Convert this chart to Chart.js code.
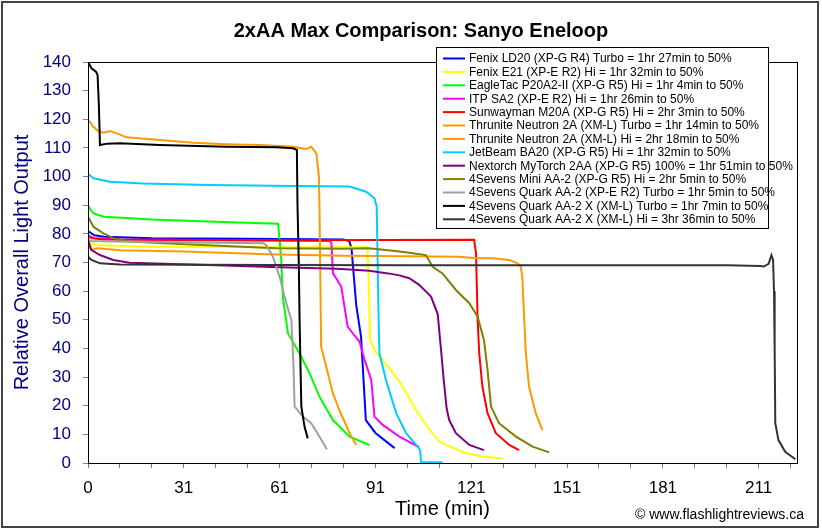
<!DOCTYPE html>
<html>
<head>
<meta charset="utf-8">
<title>2xAA Max Comparison: Sanyo Eneloop</title>
<script src="https://cdn.jsdelivr.net/npm/chart.js@4/dist/chart.umd.min.js"></script>
<style>
  body { margin: 0; background: #fff; }
  canvas { display: block; }
</style>
</head>
<body>
<canvas id="runtimeChart" width="822" height="530"></canvas>
<script>
// runtime traces: [time (min), relative output]
var fenixLD20 = [[0,81],[2,79.5],[5,79],[20,78.5],[50,78.3],[80,78],[81.8,77.5],[82.5,75],[84,55],[85.5,44],[87,15],[90,10.5],[96,5.2]];
var fenixE21 = [[0,77],[3,76],[20,75.5],[60,75.3],[87.5,75.3],[88,60],[88.3,43],[90,39],[92.3,36],[97.5,28.5],[102.7,18.5],[106,13],[110,7.4],[118.3,3.4],[124,2.2],[129.8,1.6]];
var eagleTac = [[0,90],[1,88],[2,87],[5,86],[20,85],[40,84.2],[59.5,83.5],[60,78],[60.5,70.9],[61,58],[62.6,45.3],[66.2,38.3],[69.4,31.3],[72.5,23.1],[76.7,15],[81.9,9.2],[88.1,6.3]];
var itpSA2 = [[0,79.5],[2,78.5],[10,78],[40,77.8],[75.5,77.5],[76.2,77],[76.7,66.2],[77.7,64.5],[79.3,61.6],[81.3,47.6],[82.9,45.3],[85,42.4],[86.6,36],[88.7,29],[89.7,16.2],[92.3,13.3],[97.5,9.2],[103.7,5.5]];
var sunwayman = [[0,79.5],[1,78.5],[5,78],[60,77.8],[120.9,77.9],[121.5,73.2],[122,49.9],[122.5,38.3],[123.5,26.6],[125.1,17.4],[127.7,10.4],[131.9,6.3],[135,4.5]];
var thruniteTurbo = [[0,120],[1.7,117.4],[3.2,115.9],[4.8,115.3],[6.9,115.9],[9,115.1],[12.1,113.7],[22.5,112.8],[32.9,111.8],[43.3,111.3],[53.7,111],[64.2,110.4],[68.3,109.6],[69.9,110.4],[71.5,108.1],[72.3,100],[72.5,88],[72.8,60],[73,40.6],[74.6,33.6],[76.7,24.3],[78.7,18.5],[81.9,10.4],[84,6.3]];
var thruniteHi = [[0,76],[1,74.5],[3,75],[10,74.3],[30,73.8],[59,72.8],[80,72.4],[100,72.2],[116.2,72],[121.5,71.5],[126.7,71.5],[131.9,70.9],[134.5,69.7],[135.5,68.5],[136,65],[136.6,49.9],[137.1,38.3],[138.1,26.6],[140.2,17.4],[142.3,11.5]];
var jetBeam = [[0,101],[1.7,99.4],[6.9,98.2],[17.3,97.6],[38.1,97.1],[64,96.7],[81.9,96.5],[87.1,94.7],[89.7,92.4],[90.4,89.5],[90.7,70],[91,50],[91.25,38.3],[93.3,29],[96.5,17.4],[99.6,10.4],[103.2,5.7],[104,4.5],[104.3,0.3],[111,0.3]];
var nextorch = [[0,78],[1,74.4],[3.75,72.6],[7.9,70.9],[13,69.9],[40,69],[60,68.3],[78,67.8],[88,67.1],[94,66.2],[97.5,65.5],[100.6,64.5],[103.7,62.2],[107.4,58.1],[109.5,52],[110.5,40],[111.3,30],[112.3,19],[113.1,15],[115.2,10.4],[119.4,6.3],[124,4.5]];
var miniAA2 = [[0,86],[1.7,82.5],[4.8,80.2],[7.9,78.5],[13,77.3],[28.6,76.5],[59,75],[80,74.8],[88,75],[97.5,73.8],[100.6,73.4],[105.8,72.6],[107.9,68.5],[111,66.2],[115.2,60.4],[119.4,55.8],[122,51.1],[124,42.9],[125.1,32.5],[126.2,19.7],[128.7,13.9],[134,9.2],[139.2,5.7],[144.4,3.7]];
var quarkTurbo = [[0,78],[1,77.5],[8,77.3],[55,76.7],[56,75.8],[57.9,72],[60,65],[62.1,55.8],[63.7,49.9],[64.3,35],[64.7,19.7],[67.3,16.2],[69.9,13.9],[72.5,9.2],[74.8,4.8]];
var quarkXTurbo = [[0,140],[1.1,137.8],[2.5,136.6],[3,135.5],[3.4,125],[3.75,111],[6,111.5],[10,111.6],[22.5,111],[43.3,110.4],[59,110.2],[64.2,109.9],[65.4,109.3],[65.6,90],[66,70],[66.25,49.9],[66.8,19.7],[67.8,12.7],[68.8,8.6]];
var quarkXHi = [[0,72],[1.1,70.9],[3.75,69.7],[10,69.3],[59,69.1],[100,69],[150,69],[200,69],[210.5,68.8],[211.6,68.6],[213.1,69.5],[214,72.6],[214.5,71],[214.8,60],[215,40],[215.2,13.9],[216.2,8],[218.3,3.9],[221.5,1.3]];

var seriesData = [fenixLD20, fenixE21, eagleTac, itpSA2, sunwayman, thruniteTurbo, thruniteHi,
  jetBeam, nextorch, miniAA2, quarkTurbo, quarkXTurbo, quarkXHi];
var seriesLabels = [
  "Fenix LD20 (XP-G R4) Turbo = 1hr 27min to 50%",
  "Fenix E21 (XP-E R2) Hi = 1hr 32min to 50%",
  "EagleTac P20A2-II (XP-G R5) Hi = 1hr 4min to 50%",
  "ITP SA2 (XP-E R2) Hi = 1hr 26min to 50%",
  "Sunwayman M20A (XP-G R5) Hi = 2hr 3min to 50%",
  "Thrunite Neutron 2A (XM-L) Turbo = 1hr 14min to 50%",
  "Thrunite Neutron 2A (XM-L) Hi = 2hr 18min to 50%",
  "JetBeam BA20 (XP-G R5) Hi = 1hr 32min to 50%",
  "Nextorch MyTorch 2AA (XP-G R5) 100% = 1hr 51min to 50%",
  "4Sevens Mini AA-2 (XP-G R5) Hi = 2hr 5min to 50%",
  "4Sevens Quark AA-2 (XP-E R2) Turbo = 1hr 5min to 50%",
  "4Sevens Quark AA-2 X (XM-L) Turbo = 1hr 7min to 50%",
  "4Sevens Quark AA-2 X (XM-L) Hi = 3hr 36min to 50%"
];
var seriesColors = ["#0000ff", "#ffff00", "#00ff00", "#ff00ff", "#ff0000", "#ff9900", "#ff9900",
  "#00ccff", "#800080", "#808000", "#a0a0a0", "#000000", "#333333"];

var xTickValues = [0, 30, 60, 90, 120, 150, 180, 210];
var xTickLabels = ["0", "31", "61", "91", "121", "151", "181", "211"];

var FONT = "'Liberation Sans', Arial, sans-serif";

// title, legend box, plot frame and credit drawn on top
var decorPlugin = {
  id: "decor",
  afterDraw: function (chart) {
    var ctx = chart.ctx;
    var area = chart.chartArea;
    ctx.save();

    ctx.strokeStyle = "#000";
    ctx.lineWidth = 1;
    ctx.strokeRect(area.left + 0.5, area.top + 0.5, area.right - area.left, area.bottom - area.top);

    ctx.strokeStyle = "#444";
    ctx.lineWidth = 2;
    ctx.strokeRect(2, 2, 816, 525);

    ctx.fillStyle = "#000";
    ctx.font = "bold 20px " + FONT;
    ctx.textAlign = "center";
    ctx.textBaseline = "middle";
    ctx.fillText("2xAA Max Comparison: Sanyo Eneloop", 421, 31);

    ctx.font = "14px " + FONT;
    ctx.textAlign = "right";
    ctx.fillText("\u00a9 www.flashlightreviews.ca", 804, 515);

    // legend
    var lx = 436, ly = 47, lw = 332, lh = 181;
    ctx.fillStyle = "#fff";
    ctx.fillRect(lx, ly, lw, lh);
    ctx.strokeStyle = "#000";
    ctx.lineWidth = 1;
    ctx.strokeRect(lx + 0.5, ly + 0.5, lw, lh);
    ctx.font = "12px " + FONT;
    ctx.textAlign = "left";
    chart.data.datasets.forEach(function (ds, i) {
      var y = 58.5 + i * 13.4;
      ctx.strokeStyle = ds.borderColor;
      ctx.lineWidth = 2;
      ctx.beginPath();
      ctx.moveTo(443, y);
      ctx.lineTo(465, y);
      ctx.stroke();
      ctx.fillStyle = "#000";
      ctx.fillText(ds.label, 469, y + 0.5);
    });
    ctx.restore();
  }
};

var datasets = seriesData.map(function (series, i) {
  return {
    label: seriesLabels[i],
    data: series.map(function (p) { return { x: p[0], y: p[1] }; }),
    borderColor: seriesColors[i],
    backgroundColor: seriesColors[i],
    borderWidth: 2,
    pointRadius: 0,
    tension: 0,
    fill: false,
    order: seriesData.length - i
  };
});

new Chart(document.getElementById("runtimeChart").getContext("2d"), {
  type: "line",
  data: { datasets: datasets },
  options: {
    responsive: false,
    animation: false,
    devicePixelRatio: 1,
    layout: { padding: { left: 0, top: 62, right: 25, bottom: 0 } },
    plugins: {
      legend: { display: false },
      title: { display: false },
      tooltip: { enabled: false }
    },
    scales: {
      x: {
        type: "linear",
        min: 0,
        max: 222,
        grid: { drawOnChartArea: false, drawTicks: true, tickLength: 5, color: "#808080" },
        border: { color: "#000" },
        ticks: {
          stepSize: 10,
          includeBounds: false,
          autoSkip: false,
          maxRotation: 0,
          padding: 10,
          color: "#000",
          font: { family: FONT, size: 17 },
          callback: function (v) {
            var i = xTickValues.indexOf(v);
            return i >= 0 ? xTickLabels[i] : "";
          }
        },
        title: {
          display: true,
          text: "Time (min)",
          color: "#000",
          font: { family: FONT, size: 20 },
          padding: { top: 0, bottom: 9 }
        },
        afterFit: function (s) { s.height = 67; }
      },
      y: {
        min: 0,
        max: 140,
        grid: { drawOnChartArea: false, drawTicks: true, tickLength: 5, color: "#808080" },
        border: { color: "#000" },
        ticks: {
          stepSize: 10,
          padding: 12,
          color: "#000080",
          font: { family: FONT, size: 17 }
        },
        title: {
          display: true,
          text: "Relative Overall Light Output",
          color: "#000080",
          font: { family: FONT, size: 20 },
          padding: { top: 10, bottom: 0 }
        },
        afterFit: function (s) { s.width = 88; }
      }
    }
  },
  plugins: [decorPlugin]
});
</script>
</body>
</html>
